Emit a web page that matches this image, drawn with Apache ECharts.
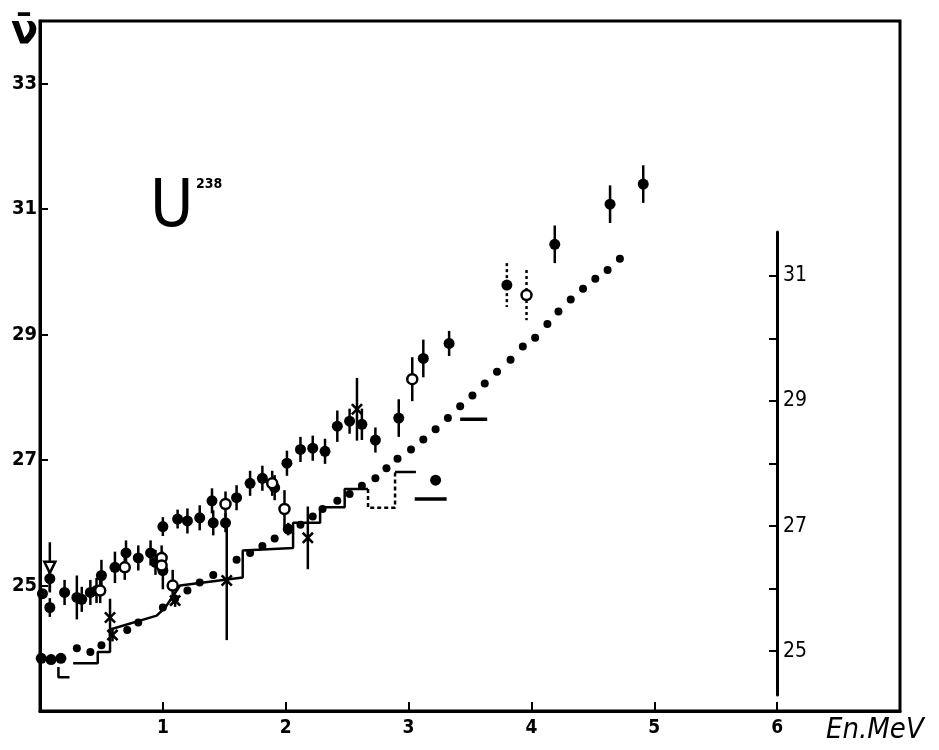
<!DOCTYPE html>
<html>
<head>
<meta charset="utf-8">
<title>U238 nu-bar</title>
<script src="https://cdn.jsdelivr.net/npm/echarts@6/dist/echarts.min.js"></script>
<style>
  html, body { margin: 0; padding: 0; background: #fff; }
  #chart { width: 939px; height: 750px; }
</style>
</head>
<body>
<div id="chart"></div>
<script type="text/javascript">

// ---- data: [E (MeV), nu-bar, error] ----
var xTicks = [1, 2, 3, 4, 5, 6];
var leftTicks = [2.5, 2.7, 2.9, 3.1, 3.3];
var rightTicks = [2.5, 2.6, 2.7, 2.8, 2.9, 3.0, 3.1];
var rightLabels = [2.5, 2.7, 2.9, 3.1];

var filledPts = [
  [0.01, 2.384, 0], [0.09, 2.382, 0], [0.17, 2.384, 0],
  [0.02, 2.487, 0], [0.08, 2.511, 0.02], [0.08, 2.465, 0.015], [0.20, 2.489, 0.02],
  [0.30, 2.481, 0.035], [0.34, 2.478, 0.02], [0.41, 2.489, 0.02], [0.46, 2.492, 0.02],
  [0.50, 2.516, 0.025], [0.61, 2.529, 0.025], [0.70, 2.552, 0.02], [0.80, 2.544, 0.02],
  [0.90, 2.552, 0.02], [0.94, 2.537, 0.02], [1.00, 2.524, 0.03],
  [1.00, 2.594, 0.015], [1.12, 2.606, 0.015], [1.20, 2.603, 0.02], [1.30, 2.608, 0.02],
  [1.40, 2.635, 0.02], [1.41, 2.600, 0.02], [1.51, 2.600, 0.015], [1.60, 2.640, 0.02],
  [1.71, 2.663, 0.02], [1.81, 2.671, 0.02], [1.91, 2.656, 0.02], [2.01, 2.695, 0.02],
  [2.02, 2.590, 0.01], [2.12, 2.717, 0.02], [2.22, 2.719, 0.02], [2.32, 2.714, 0.02],
  [2.42, 2.754, 0.025], [2.52, 2.762, 0.02], [2.62, 2.757, 0.025], [2.73, 2.732, 0.02],
  [2.92, 2.767, 0.03], [3.12, 2.862, 0.03], [3.33, 2.886, 0.02], [3.22, 2.668, 0],
  [4.19, 3.044, 0.03], [4.64, 3.108, 0.03], [4.91, 3.140, 0.03]
];
var filledDashed = [[3.80, 2.979, 0.035]];
var openPts = [
  [0.49, 2.492, 0.02], [0.69, 2.529, 0.02], [0.99, 2.544, 0.02], [0.99, 2.532, 0],
  [1.08, 2.500, 0.025], [1.51, 2.630, 0.02], [1.89, 2.663, 0.02], [1.99, 2.622, 0.03],
  [3.03, 2.829, 0.035]
];
var openDashed = [[3.96, 2.963, 0.04]];
var openTri = [[0.08, 2.529, 0.04]];
var crossPts = [
  [0.57, 2.449, 0.03], [0.59, 2.421, 0.01], [1.10, 2.476, 0.01],
  [1.52, 2.508, 0.095], [2.18, 2.576, 0.05], [2.58, 2.781, 0.05]
];

// dotted calculated curve
var curveDots = [
  [0.30, 2.400], [0.41, 2.394], [0.50, 2.405], [0.71, 2.429], [0.80, 2.441], [1.00, 2.465],
  [1.10, 2.479], [1.20, 2.492], [1.30, 2.505], [1.41, 2.517], [1.60, 2.541], [1.71, 2.552],
  [1.81, 2.563], [1.91, 2.575], [2.12, 2.597], [2.22, 2.610], [2.30, 2.622], [2.42, 2.635],
  [2.52, 2.646], [2.62, 2.659], [2.73, 2.671], [2.82, 2.687], [2.91, 2.702], [3.02, 2.717],
  [3.12, 2.733], [3.22, 2.749], [3.32, 2.767], [3.42, 2.786], [3.52, 2.803], [3.62, 2.822],
  [3.72, 2.841], [3.83, 2.860], [3.93, 2.881], [4.03, 2.895], [4.13, 2.917], [4.22, 2.937],
  [4.32, 2.956], [4.42, 2.973], [4.52, 2.989], [4.62, 3.003], [4.72, 3.021]
];

// histogram pieces
var histA = [[0, 2.384], [0.15, 2.384]];
var histB = [[0.15, 2.37], [0.15, 2.354], [0.24, 2.354]];
var histC = [
  [0.27, 2.376], [0.47, 2.376], [0.47, 2.394], [0.57, 2.394], [0.57, 2.43], [0.95, 2.452],
  [1.02, 2.465], [1.14, 2.50], [1.65, 2.513], [1.65, 2.556], [2.06, 2.560], [2.06, 2.600],
  [2.28, 2.600], [2.28, 2.625], [2.48, 2.625], [2.48, 2.654], [2.67, 2.654]
];
var histDash = [[2.67, 2.654], [2.67, 2.624], [2.89, 2.624], [2.89, 2.681]];
var histD = [[2.89, 2.681], [3.06, 2.681]];
var barA = [[3.05, 2.638], [3.31, 2.638]];
var barB = [[3.42, 2.765], [3.64, 2.765]];

var chart = echarts.init(document.getElementById('chart'));

function fmt(v) { return String(Math.round(v * 10)); }

function errBars(data, dashed) {
  return {
    type: 'custom',
    data: data,
    z: 2,
    encode: { x: 0, y: 1 },
    renderItem: function (params, api) {
      var x = api.value(0), y = api.value(1), e = api.value(2);
      if (!e) return;
      var a = api.coord([x, y + e]), b = api.coord([x, y - e]);
      return {
        type: 'line',
        shape: { x1: a[0], y1: a[1], x2: b[0], y2: b[1] },
        style: { stroke: '#000', lineWidth: 2.5, lineDash: dashed ? [3, 3] : null }
      };
    },
    silent: true
  };
}

function seg(data, dashed, w) {
  return {
    type: 'line', data: data, symbol: 'none', z: 1, silent: true,
    lineStyle: { color: '#000', width: w || 2.5, type: dashed ? [4, 3] : 'solid' }
  };
}

var crossPath = 'path://M0,1.5L1.5,0L5,3.5L8.5,0L10,1.5L6.5,5L10,8.5L8.5,10L5,6.5L1.5,10L0,8.5L3.5,5Z';

var option = {
  backgroundColor: '#fff',
  animation: false,
  grid: [
    { left: 40, right: 39, top: 21, bottom: 39, show: true, borderColor: '#000', borderWidth: 3 },
    { left: 777, top: 232, height: 463, width: 2 }
  ],
  xAxis: [
    {
      type: 'value', min: 0, max: 7,
      axisLine: { lineStyle: { color: '#000', width: 3 } },
      axisTick: { inside: true, length: 9, customValues: xTicks, lineStyle: { color: '#000', width: 2 } },
      axisLabel: { customValues: xTicks, color: '#000', fontSize: 19, fontWeight: 'bold',
                   fontFamily: 'DejaVu Sans Condensed', margin: 8 },
      splitLine: { show: false }
    },
    { type: 'value', gridIndex: 1, min: 0, max: 1, show: false }
  ],
  yAxis: [
    {
      type: 'value', min: 2.3, max: 3.4,
      axisLine: { show: true, lineStyle: { color: '#000', width: 3 } },
      axisTick: { show: true, inside: true, length: 8, customValues: leftTicks, lineStyle: { color: '#000', width: 2 } },
      axisLabel: { customValues: leftTicks, formatter: fmt, color: '#000', fontSize: 20, fontWeight: 'bold',
                   fontFamily: 'DejaVu Sans Condensed', margin: 3 },
      splitLine: { show: false }
    },
    {
      type: 'value', gridIndex: 1, min: 2.43, max: 3.17,
      axisLine: { show: true, lineStyle: { color: '#000', width: 3 } },
      axisTick: { show: true, inside: false, length: 8, customValues: rightTicks, lineStyle: { color: '#000', width: 2 } },
      axisLabel: { inside: true, customValues: rightLabels, formatter: fmt, color: '#000', fontSize: 21,
                   fontFamily: 'DejaVu Sans Condensed', margin: 6 },
      splitLine: { show: false }
    }
  ],
  graphic: [
    { type: 'text', left: 11, top: 13, style: { text: 'ν̄', font: 'bold 40px "DejaVu Sans"', fill: '#000' } },
    { type: 'text', left: 150, top: 176, style: { text: 'U', font: '66px "DejaVu Sans Condensed"', fill: '#000' } },
    { type: 'text', left: 196, top: 177, style: { text: '238', font: 'bold 14px "DejaVu Sans Condensed"', fill: '#000' } },
    { type: 'text', left: 826, top: 716, style: { text: 'En.MeV', font: 'italic 29px "DejaVu Sans Condensed"', fill: '#000' } }
  ],
  series: [
    seg(histA), seg(histB), seg(histC), seg(histDash, true), seg(histD),
    seg(barA, false, 3.5), seg(barB, false, 3.5),
    errBars(filledPts), errBars(openPts), errBars(openTri), errBars(crossPts),
    errBars(filledDashed, true), errBars(openDashed, true),
    {
      type: 'scatter', data: curveDots, symbol: 'circle', symbolSize: 8, z: 3,
      itemStyle: { color: '#000', opacity: 1 }
    },
    {
      type: 'scatter', data: filledPts.concat(filledDashed), symbol: 'circle', symbolSize: 11, z: 4,
      itemStyle: { color: '#000', opacity: 1 }
    },
    {
      type: 'scatter', data: openPts.concat(openDashed), symbol: 'circle', symbolSize: 10, z: 5,
      itemStyle: { color: '#fff', borderColor: '#000', borderWidth: 2.5, opacity: 1 }
    },
    {
      type: 'scatter', data: openTri, symbol: 'triangle', symbolRotate: 180, symbolSize: 11, z: 5,
      itemStyle: { color: '#fff', borderColor: '#000', borderWidth: 2.5, opacity: 1 }
    },
    {
      type: 'scatter', data: crossPts, symbol: crossPath, symbolSize: 12, z: 5,
      itemStyle: { color: '#000', opacity: 1 }
    }
  ]
};

chart.setOption(option);

</script>
</body>
</html>
